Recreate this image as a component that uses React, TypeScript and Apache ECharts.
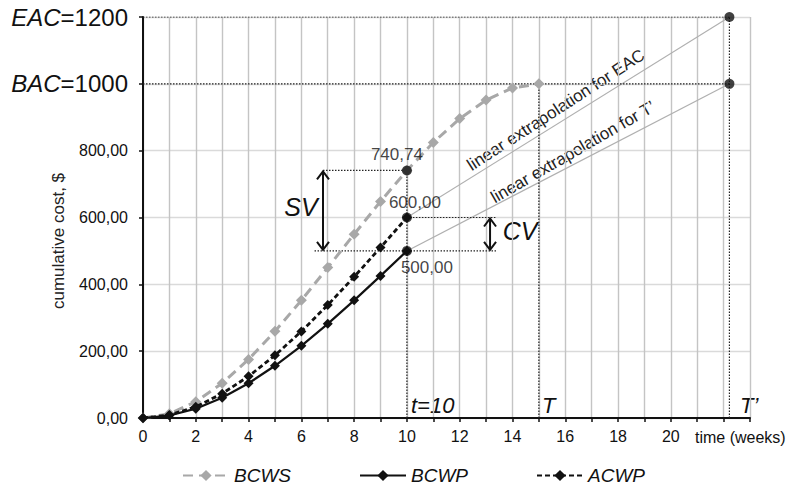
import React, { useEffect, useRef } from "react";
import * as echarts from "echarts";

// ---- data ----
const weeksPlanned = [0, 1, 2, 3, 4, 5, 6, 7, 8, 9, 10, 11, 12, 13, 14, 15];
const bcwsValues = [0, 12.7, 48.6, 104, 175.4, 259.3, 352, 450.1, 549.9, 648, 740.74, 824.6, 896, 951.4, 987.3, 1000];
const weeksActual = [0, 1, 2, 3, 4, 5, 6, 7, 8, 9, 10];
const bcwpValues = [0, 7.3, 28, 60.8, 104, 156.3, 216, 281.8, 352, 425.3, 500];
const acwpValues = [0, 8.7, 33.6, 72.9, 124.8, 187.5, 259.2, 338.1, 422.4, 510.3, 600];

const statusWeek = 10;
const plannedEnd = 15;
const forecastEnd = 22.22;
const BAC = 1000;
const EAC = 1200;
const bcwsNow = 740.74;
const acwpNow = 600;
const bcwpNow = 500;
const svArrowX = 6.82;
const cvArrowX = 13.15;

const yTicks = [0, 200, 400, 600, 800, 1000, 1200];
const xLabelTicks = [0, 2, 4, 6, 8, 10, 12, 14, 16, 18, 20];

// dotted reference segments [[x1,y1],[x2,y2]]
const dottedSegments: number[][][] = [
  [[0, EAC], [forecastEnd, EAC]],
  [[0, BAC], [forecastEnd, BAC]],
  [[forecastEnd, 0], [forecastEnd, EAC]],
  [[plannedEnd, 0], [plannedEnd, BAC]],
  [[statusWeek, 0], [statusWeek, bcwsNow]],
  [[svArrowX, bcwsNow], [statusWeek, bcwsNow]],
  [[statusWeek, acwpNow], [13.4, acwpNow]],
  [[6.5, bcwpNow], [13.4, bcwpNow]],
];
const extrapolations: number[][][] = [
  [[statusWeek, acwpNow], [forecastEnd, EAC]],
  [[statusWeek, bcwpNow], [forecastEnd, BAC]],
];
const arrows = [
  [svArrowX, bcwsNow, bcwpNow],
  [cvArrowX, acwpNow, bcwpNow],
];
const keyPoints = [
  { value: [statusWeek, bcwsNow], label: "740,74", pos: "top", off: [-10, 2] },
  { value: [statusWeek, acwpNow], label: "600,00", pos: "top", off: [8, 2] },
  { value: [statusWeek, bcwpNow], label: "500,00", pos: "bottom", off: [20, -1] },
  { value: [forecastEnd, EAC], label: "", pos: "top", off: [0, 0] },
  { value: [forecastEnd, BAC], label: "", pos: "top", off: [0, 0] },
];

const FONT = "Liberation Sans, Arial, sans-serif";

export default function App() {
  const ref = useRef<HTMLDivElement>(null);
  useEffect(() => {
    if (!ref.current) return;
    const chart = echarts.init(ref.current, undefined, { renderer: "svg" });
    const zip = (xs: number[], ys: number[]) => xs.map((x, i) => [x, ys[i]]);

    const series: any[] = [];
    extrapolations.forEach((seg, i) => {
      series.push({
        name: "extra" + i,
        type: "line",
        data: seg,
        symbol: "none",
        lineStyle: { color: "#b0b0b0", width: 1.2 },
        z: 1,
      });
    });
    dottedSegments.forEach((seg, i) => {
      series.push({
        name: "ref" + i,
        type: "line",
        data: seg,
        symbol: "none",
        lineStyle: { color: "#222", width: 1.2, type: [1.5, 1.5] },
        z: 2,
      });
    });
    series.push({
      name: "BCWS",
      type: "line",
      data: zip(weeksPlanned, bcwsValues),
      symbol: "diamond",
      symbolSize: 11,
      itemStyle: { color: "#a8a8a8" },
      lineStyle: { color: "#a8a8a8", width: 3, type: [10, 6] },
      z: 3,
    });
    series.push({
      name: "BCWP",
      type: "line",
      data: zip(weeksActual, bcwpValues),
      symbol: "diamond",
      symbolSize: 10,
      itemStyle: { color: "#111" },
      lineStyle: { color: "#111", width: 2.2 },
      z: 4,
    });
    series.push({
      name: "ACWP",
      type: "line",
      data: zip(weeksActual, acwpValues),
      symbol: "diamond",
      symbolSize: 10,
      itemStyle: { color: "#111" },
      lineStyle: { color: "#111", width: 2.8, type: [5, 3] },
      z: 4,
    });
    series.push({
      name: "points",
      type: "scatter",
      data: keyPoints.map((p) => ({
        value: p.value,
        label: {
          show: !!p.label,
          formatter: p.label,
          position: p.pos,
          offset: p.off,
          distance: 4,
          fontSize: 17,
          color: "#111",
          fontFamily: FONT,
        },
      })),
      symbol: "circle",
      symbolSize: 10,
      itemStyle: { color: "#111" },
      z: 6,
    });
    series.push({
      name: "arrows",
      type: "custom",
      data: arrows,
      encode: { x: 0, y: [1, 2] },
      z: 5,
      renderItem: (params: any, api: any) => {
        const x = api.value(0);
        const p1 = api.coord([x, api.value(1)]);
        const p2 = api.coord([x, api.value(2)]);
        const st = { stroke: "#111", lineWidth: 2, fill: "none" };
        return {
          type: "group",
          children: [
            { type: "line", shape: { x1: p1[0], y1: p1[1] + 1, x2: p2[0], y2: p2[1] - 1 }, style: st },
            { type: "polyline", shape: { points: [[p1[0] - 6, p1[1] + 9], [p1[0], p1[1] + 1], [p1[0] + 6, p1[1] + 9]] }, style: st },
            { type: "polyline", shape: { points: [[p2[0] - 6, p2[1] - 9], [p2[0], p2[1] - 1], [p2[0] + 6, p2[1] - 9]] }, style: st },
          ],
        };
      },
    });

    const big = { fontSize: 24, fontFamily: FONT, color: "#111" };
    chart.setOption({
      animation: false,
      backgroundColor: "#ffffff",
      textStyle: { fontFamily: FONT },
      grid: { left: 143, right: 42, top: 17, bottom: 68, containLabel: false },
      xAxis: {
        type: "value",
        min: 0,
        max: 23,
        interval: 1,
        axisLine: { lineStyle: { color: "#111", width: 2 } },
        axisTick: { show: true, length: 4, lineStyle: { color: "#111", width: 1.5 } },
        axisLabel: {
          fontSize: 16,
          color: "#111",
          margin: 10,
          fontFamily: FONT,
          formatter: (v: number) => (xLabelTicks.includes(v) ? String(v) : ""),
        },
        splitLine: { show: true, lineStyle: { color: "#c4c4c4", width: 1.4 } },
      },
      yAxis: {
        type: "value",
        min: 0,
        max: 1200,
        interval: 200,
        axisLine: { show: true, lineStyle: { color: "#111", width: 2 } },
        axisTick: { show: true, length: 4, lineStyle: { color: "#111", width: 1.5 } },
        axisLabel: {
          fontSize: 16,
          color: "#111",
          margin: 15,
          fontFamily: FONT,
          formatter: (v: number) => {
            if (!yTicks.includes(v)) return "";
            if (v === BAC) return "{i|BAC}{n|=" + BAC + "}";
            if (v === EAC) return "{i|EAC}{n|=" + EAC + "}";
            return v.toFixed(2).replace(".", ",");
          },
          rich: {
            i: { ...big, fontStyle: "italic" },
            n: { ...big },
          },
        },
        splitLine: { show: true, lineStyle: { color: "#dadada", width: 1.4 } },
      },
      legend: {
        data: ["BCWS", "BCWP", "ACWP"],
        left: 177,
        top: 461,
        itemWidth: 46,
        itemHeight: 14,
        itemGap: 68,
        textStyle: {
          fontSize: 19,
          fontStyle: "italic",
          color: "#111",
          fontFamily: FONT,
        },
      },
      graphic: [
        { type: "text", x: 58, y: 241, rotation: Math.PI / 2, style: { text: "cumulative cost, $", font: "17px " + FONT, fill: "#222", align: "center", verticalAlign: "middle" } },
        { type: "text", x: 695, y: 437, style: { text: "time (weeks)", font: "16px " + FONT, fill: "#111", align: "left", verticalAlign: "middle" } },
        { type: "text", x: 301, y: 207, style: { text: "SV", font: "italic 25px " + FONT, fill: "#111", align: "center", verticalAlign: "middle" } },
        { type: "text", x: 520, y: 231, style: { text: "CV", font: "italic 25px " + FONT, fill: "#111", align: "center", verticalAlign: "middle" } },
        { type: "text", x: 411, y: 405, style: { text: "t=10", font: "italic 22px " + FONT, fill: "#111", align: "left", verticalAlign: "middle" } },
        { type: "text", x: 542, y: 405, style: { text: "T", font: "italic 22px " + FONT, fill: "#111", align: "left", verticalAlign: "middle" } },
        { type: "text", x: 740, y: 405, style: { text: "T\u2019", font: "italic 22px " + FONT, fill: "#111", align: "left", verticalAlign: "middle" } },
        { type: "text", x: 556, y: 110, rotation: (33 * Math.PI) / 180, style: { text: "linear extrapolation for EAC", font: "17px " + FONT, fill: "#222", align: "center", verticalAlign: "middle" } },
        { type: "text", x: 573, y: 152, rotation: (30 * Math.PI) / 180, style: { text: "linear extrapolation for T\u2019", font: "17px " + FONT, fill: "#222", align: "center", verticalAlign: "middle" } },
      ],
      series,
    });
    return () => chart.dispose();
  }, []);
  return <div ref={ref} style={{ position: "absolute", left: 0, top: 0, width: 792, height: 486 }} />;
}
